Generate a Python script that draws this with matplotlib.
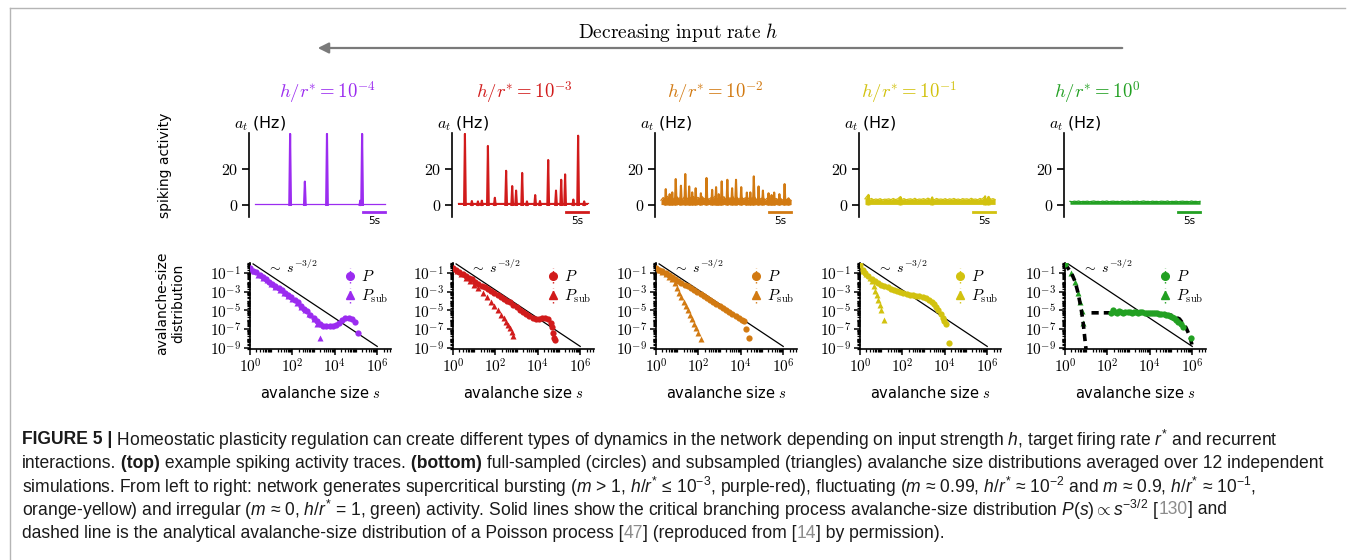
import matplotlib
matplotlib.use("Agg")
import matplotlib.pyplot as plt
import numpy as np
from matplotlib import font_manager
from matplotlib.lines import Line2D
from matplotlib.patches import FancyArrowPatch
from matplotlib.ticker import FixedLocator, LogLocator, NullFormatter

W, H = 1355, 560

plt.rcParams.update({
    "font.family": "DejaVu Sans",
    "mathtext.fontset": "cm",
    "axes.linewidth": 1.2,
})

_names = {f.name for f in font_manager.fontManager.ttflist}
CAPTION_FONT = "Liberation Sans Narrow" if "Liberation Sans Narrow" in _names else "Liberation Sans"
plt.rcParams["mathtext.rm"] = CAPTION_FONT
plt.rcParams["mathtext.it"] = CAPTION_FONT + ":italic"
plt.rcParams["mathtext.bf"] = CAPTION_FONT + ":bold"

# ---- panels, left to right: decreasing h/r* ------------------------------
EXPONENTS = [-4, -3, -2, -1, 0]
COLORS = ["#9b2cf0", "#d11b1b", "#d27a12", "#d2c20f", "#22a022"]

# spiking activity a_t (Hz) over 30 s: noise band + spikes
TRACE_LO = [0.0, 0.0, 0.2, 0.3, 0.4]
ORANGE_HI = [2.6, 4.1, 3.0, 4.8, 3.3, 4.4, 2.9, 5.0, 3.6, 4.0,
             3.1, 4.9, 3.4, 4.3, 3.8, 4.7, 2.8, 4.2, 3.5, 4.6,
             3.2, 4.5, 3.0, 4.0, 3.7, 4.9, 3.1, 4.4, 3.3, 4.6,
             2.9, 4.1, 3.6, 4.8, 3.2, 4.3, 3.0, 4.5, 3.4, 4.0,
             3.1, 4.4, 3.5, 4.8, 2.9, 3.9, 3.3, 4.2, 2.8, 3.8,
             3.2, 4.1, 2.7, 3.6, 3.0, 3.9, 2.6, 3.7, 2.9, 3.4,
             2.5]
YELLOW_HI = [3.4, 5.0, 3.1, 3.6, 2.9, 3.3, 3.0, 3.5, 2.8, 3.2,
             3.1, 3.4, 2.9, 3.6, 3.0, 3.3, 4.3, 3.1, 3.5, 2.9,
             3.2, 3.4, 3.0, 3.7, 2.9, 3.3, 3.1, 3.5, 3.0, 3.8,
             3.2, 3.4, 2.9, 3.6, 3.1, 3.3, 3.0, 3.5, 2.9, 3.4,
             3.1, 3.6, 3.0, 3.3, 2.9, 3.5, 3.2, 3.4, 3.0, 3.7,
             3.1, 3.3, 2.9, 3.6, 3.2, 4.4, 3.0, 4.6, 3.1, 3.5,
             3.0]
GREEN_HI = [2.0, 1.8, 2.1, 1.9, 2.2, 1.8, 2.0, 1.9, 2.1, 1.8,
            2.0, 2.2, 1.9, 2.0, 1.8, 2.1, 1.9, 2.2, 1.8, 2.0,
            2.1, 1.9, 2.0, 1.8, 2.2, 1.9, 2.0, 2.1, 1.8, 2.0,
            1.9, 2.1, 1.8, 2.0, 2.2, 1.9, 2.0, 1.8, 2.1, 1.9,
            2.0, 1.8, 2.1, 2.0, 1.9, 2.2, 1.8, 2.0, 1.9, 2.1,
            1.8, 2.0, 2.1, 1.9, 2.0, 1.8, 2.2, 1.9, 2.0, 1.8,
            2.0]
TRACE_HI = [0.8, 1.0, ORANGE_HI, YELLOW_HI, GREEN_HI]

PURPLE_SPIKE_T = [8.1, 11.5, 16.6, 24.3, 24.7]
PURPLE_SPIKE_H = [39.5, 13.0, 39.5, 2.5, 39.5]
RED_SPIKE_T = [1.6, 3.2, 4.6, 5.5, 6.9, 8.5, 11.1, 12.5, 13.4, 14.8,
               15.9, 17.8, 18.9, 20.8, 22.6, 23.8, 24.7, 26.6, 27.7, 29.1]
RED_SPIKE_H = [39.5, 2.2, 2.0, 2.4, 32.8, 4.0, 19.0, 10.5, 8.0, 17.8,
               2.0, 5.5, 2.2, 25.0, 8.0, 14.0, 17.0, 3.0, 38.5, 2.0]
ORANGE_SPIKE_T = [1.1, 2.0, 2.6, 3.4, 4.6, 5.6, 6.5, 7.2, 8.0, 9.2,
                  10.5, 11.8, 12.7, 13.3, 14.0, 15.3, 16.4, 17.3, 18.5, 19.8,
                  20.6, 21.4, 22.5, 23.5, 24.8, 25.5, 26.1, 27.3, 28.5, 29.4]
ORANGE_SPIKE_H = [8.8, 6.0, 7.0, 14.4, 10.7, 17.2, 10.3, 7.0, 9.3, 6.5,
                  15.0, 8.4, 9.9, 6.0, 13.1, 14.0, 9.3, 14.0, 9.9, 6.9,
                  7.0, 15.9, 10.3, 8.0, 6.5, 5.5, 6.9, 6.0, 11.6, 3.7]
YELLOW_SPIKE_T = [0.8, 8.2, 15.5, 27.7, 28.5]
YELLOW_SPIKE_H = [5.6, 4.4, 4.2, 4.8, 4.5]
SPIKE_T = [PURPLE_SPIKE_T, RED_SPIKE_T, ORANGE_SPIKE_T, YELLOW_SPIKE_T, []]
SPIKE_H = [PURPLE_SPIKE_H, RED_SPIKE_H, ORANGE_SPIKE_H, YELLOW_SPIKE_H, []]

# avalanche-size distributions, stored as log10(s), log10(P)
P_LOGS = [
    [0.0, 0.15, 0.3, 0.45, 0.6, 0.75, 0.9, 1.05, 1.2, 1.35, 1.5, 1.65, 1.8, 1.95,
     2.1, 2.25, 2.4, 2.55, 2.7, 2.85, 3.0, 3.15, 3.3, 3.45, 3.6, 3.75, 3.9, 4.05,
     4.2, 4.35, 4.5, 4.65, 4.8, 4.95, 5.1],
    [0.0, 0.15, 0.3, 0.45, 0.6, 0.75, 0.9, 1.05, 1.2, 1.35, 1.5, 1.65, 1.8, 1.95,
     2.1, 2.25, 2.4, 2.55, 2.7, 2.85, 3.0, 3.15, 3.3, 3.45, 3.6, 3.75, 3.9, 4.05,
     4.2, 4.35, 4.5, 4.6, 4.65, 4.7, 4.75, 4.8],
    [0.0, 0.15, 0.3, 0.45, 0.6, 0.75, 0.9, 1.05, 1.2, 1.35, 1.5, 1.65, 1.8, 1.95,
     2.1, 2.25, 2.4, 2.55, 2.7, 2.85, 3.0, 3.15, 3.3, 3.45, 3.6, 3.75, 3.9, 4.05,
     4.15, 4.25, 4.4],
    [0.0, 0.12, 0.25, 0.4, 0.55, 0.7, 0.85, 1.0, 1.15, 1.3, 1.45, 1.6, 1.75, 1.9,
     2.05, 2.2, 2.35, 2.5, 2.65, 2.8, 2.95, 3.1, 3.25, 3.4, 3.5, 3.6, 3.7, 3.8,
     3.9, 3.97, 4.05, 4.22],
    [0.0, 2.15, 2.25, 2.35, 2.45, 2.55, 2.65, 2.75, 2.85, 2.95, 3.05, 3.15, 3.25,
     3.35, 3.45, 3.55, 3.65, 3.75, 3.85, 3.95, 4.05, 4.15, 4.25, 4.35, 4.45, 4.55,
     4.65, 4.75, 4.85, 4.95, 5.05, 5.15, 5.25, 5.35, 5.45, 5.55, 5.95],
]
P_LOGP = [
    [-0.45, -0.75, -0.95, -1.2, -1.45, -1.65, -1.95, -2.2, -2.4, -2.65, -2.85, -3.1,
     -3.35, -3.6, -3.9, -4.15, -4.5, -4.8, -5.1, -5.45, -5.8, -6.15, -6.45, -6.6,
     -6.65, -6.65, -6.6, -6.5, -6.3, -6.0, -5.85, -5.8, -5.9, -6.2, -7.45],
    [-0.45, -0.7, -0.9, -1.1, -1.3, -1.5, -1.7, -1.95, -2.15, -2.35, -2.55, -2.75,
     -2.95, -3.15, -3.35, -3.55, -3.75, -3.95, -4.15, -4.4, -4.65, -4.9, -5.15, -5.4,
     -5.6, -5.8, -5.9, -5.9, -5.85, -5.85, -5.95, -6.3, -6.8, -7.4, -7.9, -8.15],
    [-0.45, -0.65, -0.85, -1.05, -1.25, -1.45, -1.65, -1.85, -2.05, -2.25, -2.45,
     -2.65, -2.85, -3.05, -3.25, -3.45, -3.65, -3.85, -4.1, -4.3, -4.5, -4.7, -4.95,
     -5.15, -5.35, -5.6, -5.8, -6.0, -6.15, -7.0, -7.95],
    [-0.15, -0.7, -1.05, -1.35, -1.6, -1.85, -2.05, -2.25, -2.4, -2.55, -2.7, -2.85,
     -2.95, -3.05, -3.15, -3.25, -3.35, -3.4, -3.45, -3.5, -3.6, -3.7, -3.85, -4.1,
     -4.35, -4.65, -5.0, -5.35, -5.75, -6.15, -6.45, -8.45],
    [-0.05, -5.3, -5.0, -5.15, -5.3, -5.1, -5.2, -5.25, -5.15, -5.2, -5.2, -5.25,
     -5.2, -5.2, -5.25, -5.2, -5.2, -5.25, -5.25, -5.25, -5.3, -5.3, -5.3, -5.3,
     -5.35, -5.35, -5.4, -5.45, -5.5, -5.6, -5.7, -5.85, -6.0, -6.2, -6.45, -6.75,
     -7.9],
]
PSUB_LOGS = [
    [0.0, 0.2, 0.4, 0.6, 0.8, 1.0, 1.2, 1.4, 1.6, 1.8, 2.0, 2.2, 2.4, 2.6, 2.8,
     3.0, 3.17, 3.3],
    [0.0, 0.2, 0.4, 0.6, 0.8, 1.0, 1.2, 1.4, 1.6, 1.8, 1.95, 2.1, 2.25, 2.4, 2.5,
     2.6, 2.7, 2.78, 2.85],
    [0.0, 0.15, 0.3, 0.45, 0.6, 0.75, 0.9, 1.0, 1.1, 1.2, 1.3, 1.4, 1.5, 1.6, 1.7,
     1.8, 1.9, 2.0, 2.1],
    [0.0, 0.15, 0.3, 0.45, 0.55, 0.65, 0.72, 0.8, 0.87, 0.93, 0.98, 1.13],
    [0.0, 0.3, 0.48, 0.6, 0.7, 0.78, 0.85],
]
PSUB_LOGP = [
    [-0.5, -0.85, -1.2, -1.5, -1.8, -2.15, -2.5, -2.8, -3.15, -3.5, -3.8, -4.2,
     -4.6, -5.0, -5.4, -5.9, -6.4, -7.95],
    [-0.45, -0.8, -1.15, -1.5, -1.85, -2.25, -2.65, -3.1, -3.55, -4.05, -4.5, -5.0,
     -5.45, -5.85, -6.2, -6.5, -6.9, -7.3, -7.75],
    [-0.45, -0.65, -0.9, -1.15, -1.4, -1.65, -2.1, -2.6, -3.1, -3.6, -4.05, -4.5,
     -5.0, -5.45, -5.9, -6.4, -6.9, -7.4, -8.0],
    [-0.15, -0.75, -1.1, -1.5, -1.9, -2.4, -2.9, -3.4, -3.9, -4.4, -4.9, -6.05],
    [-0.05, -1.0, -1.95, -3.1, -4.1, -5.1, -6.3],
]

# critical branching guide ~ s^(-3/2), end points
GUIDE_S = [1.4, 1e6]
GUIDE_P = [0.9, 1.5e-9]

# analytical Poisson-process distributions (h/r* = 1 only)
POISSON_SUB_LOGS = [0.0, 0.3, 0.48, 0.6, 0.7, 0.78, 0.85, 0.9, 0.95, 1.0]
POISSON_SUB_LOGP = [-0.05, -1.0, -1.95, -3.0, -4.1, -5.1, -6.2, -7.2, -8.3, -9.3]
POISSON_FULL_LOGS = [1.25, 2.0, 3.0, 4.0, 5.0, 5.4, 5.7, 5.9, 6.05]
POISSON_FULL_LOGP = [-5.25, -5.25, -5.25, -5.3, -5.5, -5.9, -6.8, -7.8, -9.3]

COL_X = [249, 452, 655, 859, 1064]
TITLE_X = [327, 524, 715, 909, 1097]


def fx(x):
    return x / W


def fy(y):
    return 1 - y / H


def px_rect(x0, y0, x1, y1):
    return [fx(x0), fy(y1), (x1 - x0) / W, (y1 - y0) / H]


fig = plt.figure(figsize=(W / 100, H / 100), dpi=100)

# frame
fig.add_artist(Line2D([fx(10), fx(10)], [0, fy(8)], color="#b5b5b5", lw=1))
fig.add_artist(Line2D([fx(10), fx(1345)], [fy(8), fy(8)], color="#b5b5b5", lw=1))

fig.text(fx(678), fy(32), r"$\mathrm{Decreasing\ input\ rate}\ h$",
         fontsize=14, ha="center", va="center")
fig.add_artist(FancyArrowPatch((fx(1125), fy(48)), (fx(315), fy(48)),
                               transform=fig.transFigure, arrowstyle="-|>",
                               mutation_scale=16, color="#7a7a7a", lw=1.6))

fig.text(fx(165), fy(165), "spiking activity", rotation=90,
         ha="center", va="center", fontsize=10)
fig.text(fx(170), fy(303), "avalanche-size\ndistribution", rotation=90,
         ha="center", va="center", fontsize=10, linespacing=1.15)

for i, (expo, c) in enumerate(zip(EXPONENTS, COLORS)):
    x0 = COL_X[i]
    fig.text(fx(TITLE_X[i]), fy(92), rf"$h/r^{{*}} = 10^{{{expo}}}$",
             color=c, fontsize=13.5, ha="center", va="center")

    # --- spiking activity trace
    ax = fig.add_axes(px_rect(x0, 133, x0 + 140, 217))
    ax.set_xlim(-1.38, 30.9)
    ax.set_ylim(-6.7, 40)
    for side in ("top", "right", "bottom"):
        ax.spines[side].set_visible(False)
    ax.set_xticks([])
    ax.set_yticks([0, 20])
    ax.set_yticklabels(["$0$", "$20$"], fontsize=11.5)
    ax.tick_params(axis="y", length=5, width=1.2, pad=3)

    hi = np.atleast_1d(TRACE_HI[i]).astype(float)
    if hi.size == 1:
        hi = np.repeat(hi, 2)
    t = np.linspace(0, 30, hi.size)
    lo = TRACE_LO[i]
    ax.fill_between(t, lo, hi, color=c, lw=0)
    ax.plot(t, hi, color=c, lw=0.9)
    for ts, hs in zip(SPIKE_T[i], SPIKE_H[i]):
        ax.plot([ts - 0.2, ts, ts + 0.2], [lo, hs, lo], color=c, lw=1.5)

    ax.plot([25, 30], [-4, -4], color=c, lw=2, clip_on=False)
    ax.text(27.5, -6.2, "5s", fontsize=7.5, ha="center", va="top", clip_on=False)
    fig.text(fx(x0 - 15), fy(128), r"$a_t$ (Hz)", fontsize=11.5, va="baseline")

    # --- avalanche-size distribution
    ax = fig.add_axes(px_rect(x0 + 1, 263, x0 + 142, 349))
    ax.set_xscale("log")
    ax.set_yscale("log")
    ax.set_xlim(1, 10 ** 6.65)
    ax.set_ylim(10 ** -9.1, 10 ** 0.05)
    for side in ("top", "right"):
        ax.spines[side].set_visible(False)

    ax.xaxis.set_major_locator(FixedLocator([1, 1e2, 1e4, 1e6]))
    ax.set_xticklabels([r"$10^{0}$", r"$10^{2}$", r"$10^{4}$", r"$10^{6}$"], fontsize=11)
    ax.xaxis.set_minor_locator(LogLocator(base=10, subs=np.arange(1, 10), numticks=50))
    ax.xaxis.set_minor_formatter(NullFormatter())
    ax.yaxis.set_major_locator(FixedLocator([1e-9, 1e-7, 1e-5, 1e-3, 1e-1]))
    ax.set_yticklabels([r"$10^{-9}$", r"$10^{-7}$", r"$10^{-5}$", r"$10^{-3}$", r"$10^{-1}$"],
                       fontsize=11)
    ax.yaxis.set_minor_locator(LogLocator(base=10, subs=np.arange(1, 10), numticks=50))
    ax.yaxis.set_minor_formatter(NullFormatter())
    ax.tick_params(which="major", length=4.5, width=1.1, pad=2)
    ax.tick_params(which="minor", length=2.5, width=0.9)

    ax.plot(GUIDE_S, GUIDE_P, color="black", lw=0.9, zorder=1)
    ax.text(10 ** 0.8, 10 ** -0.45, r"$\sim\ s^{-3/2}$", fontsize=10, va="center")

    ax.plot(10 ** np.array(PSUB_LOGS[i]), 10 ** np.array(PSUB_LOGP[i]), "^",
            color=c, ms=4.8, mec="none", zorder=2)
    ax.plot(10 ** np.array(P_LOGS[i]), 10 ** np.array(P_LOGP[i]), "o",
            color=c, ms=4.5, mec="none", zorder=3)
    if expo == 0:
        ax.plot(10 ** np.array(POISSON_SUB_LOGS), 10 ** np.array(POISSON_SUB_LOGP),
                color="black", lw=2.6, ls=(0, (2, 1.4)), zorder=2.5)
        ax.plot(10 ** np.array(POISSON_FULL_LOGS), 10 ** np.array(POISSON_FULL_LOGP),
                color="black", lw=2.6, ls=(0, (2, 1.4)), zorder=2.5)

    hp = ax.errorbar([], [], yerr=np.array([]), fmt="o", color=c, ms=5.5,
                     capsize=2, elinewidth=1)
    ht = ax.errorbar([], [], yerr=np.array([]), fmt="^", color=c, ms=5.5,
                     capsize=2, elinewidth=1)
    for h in (hp, ht):
        h[2][0].set_linestyle(":")
    ax.legend([hp, ht], [r"$P$", r"$P_{\rm sub}$"], loc="upper left",
              bbox_to_anchor=(0.66, 0.93), frameon=False, fontsize=11,
              handlelength=0.9, handletextpad=0.3, labelspacing=0.25,
              borderaxespad=0, borderpad=0)

    ax.set_xlabel(r"avalanche size $s$", fontsize=10.5, labelpad=6)

# ---- caption
CAPTION = [
    [("FIGURE 5 |", "b"),
     (" Homeostatic plasticity regulation can create different types of dynamics in the "
      "network depending on input strength $h$, target firing rate $r^{*}$ and recurrent", "n")],
    [("interactions.", "n"), (" (top)", "b"), (" example spiking activity traces.", "n"),
     (" (bottom)", "b"),
     (" full-sampled (circles) and subsampled (triangles) avalanche size distributions "
      "averaged over 12 independent", "n")],
    [("simulations. From left to right: network generates supercritical bursting "
      "($m$ > 1, $h/r^{*}$ ≤ $10^{-3}$, purple-red), fluctuating ($m$ ≈ 0.99, "
      "$h/r^{*}$ ≈ $10^{-2}$ and $m$ ≈ 0.9, $h/r^{*}$ ≈ $10^{-1}$,", "n")],
    [("orange-yellow) and irregular ($m$ ≈ 0, $h/r^{*}$ = 1, green) activity. Solid lines "
      "show the critical branching process avalanche-size distribution "
      r"$P(s) \propto s^{-3/2}$ [", "n"), ("130", "g"), ("] and", "n")],
    [("dashed line is the analytical avalanche-size distribution of a Poisson process [", "n"),
     ("47", "g"), ("] (reproduced from [", "n"), ("14", "g"), ("] by permission).", "n")],
]
CAPTION_Y = [440, 463, 487, 510, 534]
CAPTION_X0 = 22
CAPTION_X1 = [1295, 1330, 1305, 1292, 966]   # right limit of each caption line

renderer = fig.canvas.get_renderer()


def draw_line(segs, yline, size):
    xpos = CAPTION_X0
    made = []
    for text, style in segs:
        t = fig.text(fx(xpos), fy(yline), text, fontsize=size,
                     family=[CAPTION_FONT, "DejaVu Sans"], math_fontfamily="custom",
                     fontweight="bold" if style == "b" else "normal",
                     color="#8c8c8c" if style == "g" else "#1a1a1a",
                     va="center")
        xpos += t.get_window_extent(renderer).width
        made.append(t)
    return made, xpos - CAPTION_X0


# one caption size, the largest that keeps every line inside its limit
fits = []
for segs, yline, x1 in zip(CAPTION, CAPTION_Y, CAPTION_X1):
    probe, width = draw_line(segs, yline, 10.0)
    for t in probe:
        t.remove()
    fits.append(10.0 * (x1 - CAPTION_X0) / width)
caption_size = min(fits)

for segs, yline in zip(CAPTION, CAPTION_Y):
    draw_line(segs, yline, caption_size)

fig.savefig("out.png", dpi=100)
